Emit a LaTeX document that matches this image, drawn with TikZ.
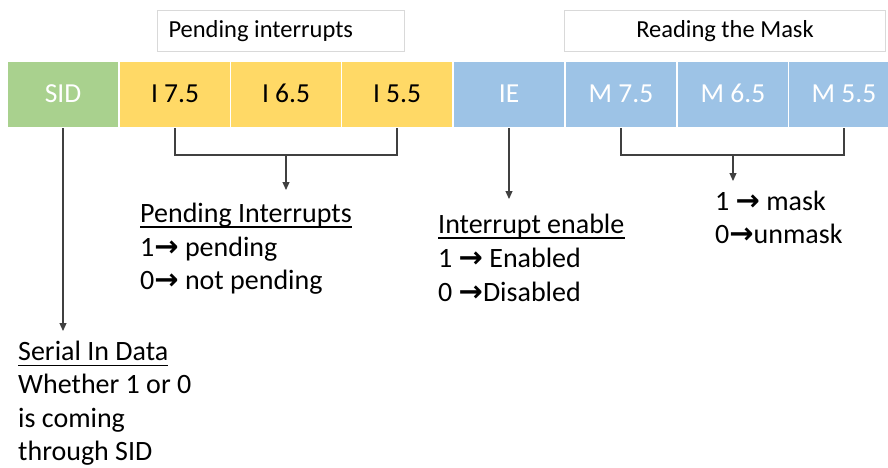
\documentclass[tikz,border=0pt]{standalone}
\usepackage{fontspec}
\setmainfont{Carlito}
\newfontfamily\arrowfont{DejaVu Sans Bold}
\usetikzlibrary{arrows.meta}
% right arrow glyph, a little larger than the running text
\newcommand\rarr{{\arrowfont\fontsize{29}{29}\selectfont →}}

\definecolor{sidgreen}{HTML}{A9D18E}
\definecolor{intyellow}{HTML}{FFD966}
\definecolor{maskblue}{HTML}{9DC3E6}
\definecolor{hdrline}{HTML}{D9D9D9}
\definecolor{connline}{HTML}{404040}

\tikzset{
  cell/.style={rectangle, anchor=north west, minimum width=111pt, minimum height=66pt,
    inner sep=0pt, draw=white, line width=1pt, font=\fontsize{27.5}{27.5}\selectfont,
    text height=16pt, text depth=0pt},
  hdr/.style={rectangle, anchor=north west, minimum height=41pt, inner ysep=0pt,
    draw=hdrline, fill=white, line width=1pt, font=\fontsize{24.5}{24.5}\selectfont,
    text height=13pt, text depth=0pt},
  body/.style={anchor=base west, inner sep=0pt, font=\fontsize{28}{28}\selectfont},
  conn/.style={draw=connline, line width=1.1pt},
  tip/.style={-{Triangle[length=8pt,width=7pt]}},
  uline/.style={draw=black, line width=1.4pt}
}

\begin{document}
\begin{tikzpicture}[x=1pt,y=-1pt]
  \useasboundingbox (0,0) rectangle (888,467);
  \clip (0,0) rectangle (888,467);

  % group headers
  \node[hdr, minimum width=247pt, inner xsep=11pt]
    (hpend) at (157,10) {\makebox[225pt][l]{Pending interrupts}};
  \node[hdr, minimum width=321pt, inner xsep=0pt] (hmask) at (564,10) {Reading the Mask};

  % register cells
  \node[cell, fill=sidgreen, text=white]   (sid) at (7,61)   {SID};
  \node[cell, fill=intyellow, text=black]  (i7)  at (119,61) {I 7.5};
  \node[cell, fill=intyellow, text=black]  (i6)  at (230,61) {I 6.5};
  \node[cell, fill=intyellow, text=black]  (i5)  at (341,61) {I 5.5};
  \node[cell, fill=maskblue, text=white]   (ie)  at (453,61) {IE};
  \node[cell, fill=maskblue, text=white]   (m7)  at (565,61) {M 7.5};
  \node[cell, fill=maskblue, text=white]   (m6)  at (677,61) {M 6.5};
  \node[cell, fill=maskblue, text=white]   (m5)  at (788,61) {M 5.5};

  % SID description
  \node[body] (sidt) at (18,360) {Serial In Data};
  \node[body] (sid1) at (18,393.5) {Whether 1 or 0};
  \node[body] (sid2) at (18,427) {is coming};
  \node[body] (sid3) at (18,460) {through SID};
  \draw[uline] ([yshift=-5.5pt]sidt.base west) -- ([yshift=-5.5pt]sidt.base east);

  % pending interrupts description
  \node[body] (pendt) at (140,222) {Pending Interrupts};
  \node[body] (pend1) at (140,256) {1\rarr{} pending};
  \node[body] (pend2) at (140,289) {0\rarr{} not pending};
  \draw[uline] ([yshift=-5pt]pendt.base west) -- ([yshift=-5pt]pendt.base east);

  % interrupt enable description
  \node[body] (iet) at (438,233) {Interrupt enable};
  \node[body] (ie1) at (438,267) {1 \rarr{} Enabled};
  \node[body] (ie2) at (438,301) {0 \rarr{}Disabled};
  \draw[uline] ([yshift=-5pt]iet.base west) -- ([yshift=-5pt]iet.base east);

  % mask description
  \node[body] (mk1) at (715,210) {1 \rarr{} mask};
  \node[body] (mk2) at (715,243) {0\rarr{}unmask};

  % connectors
  \path (sid.south) ++(0,203) coordinate (sidend);
  \draw[conn,tip] (sid.south) -- (sidend);

  \draw[conn] (i7.south) -- ++(0,27) coordinate (ibar) -| (i5.south);
  \path (i6.south |- ibar) ++(0,35) coordinate (pendend);
  \draw[conn,tip] (i6.south |- ibar) -- (pendend);

  \path (ie.south) ++(0,71) coordinate (ieend);
  \draw[conn,tip] (ie.south) -- (ieend);

  \draw[conn] (m7.south) -- ++(0,27) coordinate (mbar) -| (m5.south);
  \path (m6.south |- mbar) ++(0,26) coordinate (maskend);
  \draw[conn,tip] (m6.south |- mbar) -- (maskend);
\end{tikzpicture}
\end{document}
